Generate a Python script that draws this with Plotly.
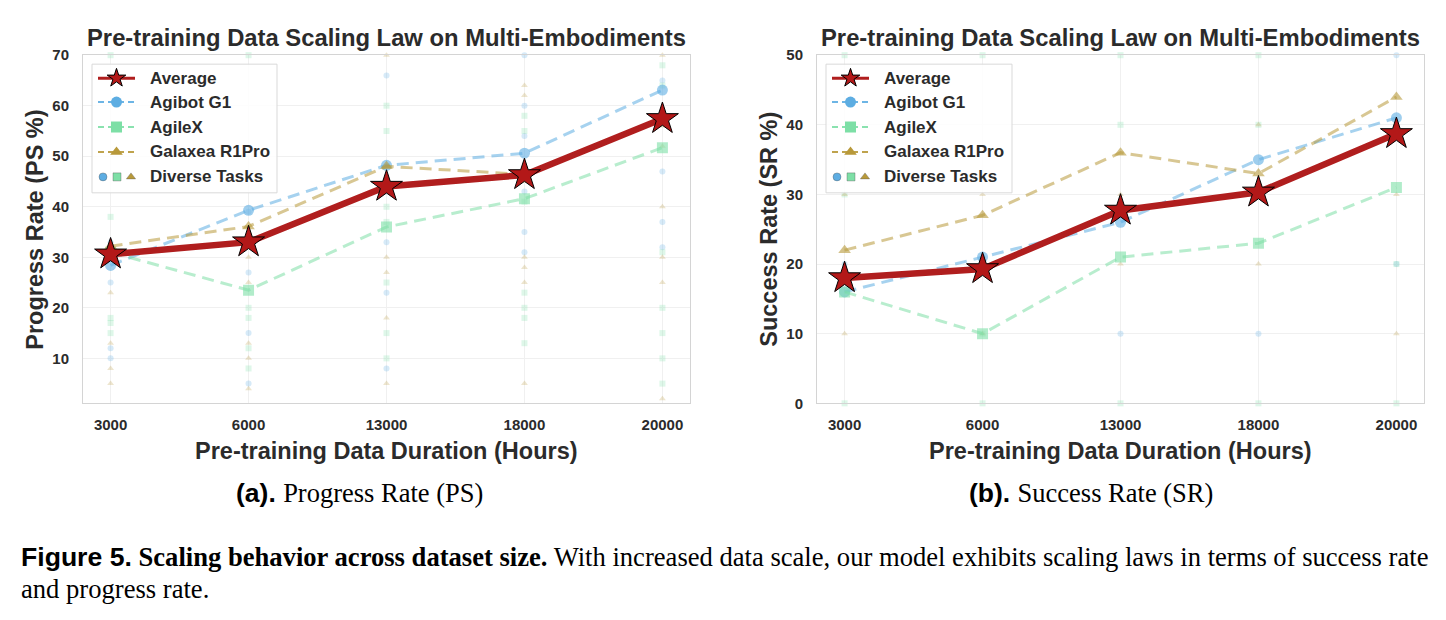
import plotly.graph_objects as go

W, H = 1446, 620
# the captured page shows the figure with a small vertical offset and squeeze;
# page positions below are given in screen pixels and mapped back to figure pixels
VOFF, VSCALE = 8.7, 0.975

categories = ["3000", "6000", "13000", "18000", "20000"]

# Progress Rate (PS %)
ps_average = [30.6, 33.0, 44.0, 46.3, 57.4]
ps_agibot = [28.4, 39.3, 48.2, 50.6, 63.1]
ps_agilex = [31.0, 23.5, 36.0, 41.6, 51.7]
ps_galaxea = [32.2, 36.1, 48.0, 46.4, 57.4]

# Success Rate (SR %)
sr_average = [18.0, 19.3, 27.7, 30.3, 38.7]
sr_agibot = [16.0, 21.0, 26.0, 35.0, 41.0]
sr_agilex = [16.0, 10.0, 21.0, 23.0, 31.0]
sr_galaxea = [22.0, 27.0, 36.0, 33.0, 44.0]

# Diverse task points (one list per data size)
ps_agibot_tasks = [[25, 12, 10, 33], [15, 5, 27, 39], [43, 33, 23, 8, 66], [70, 60, 54, 43, 31, 35], [47, 37, 32, 65]]
ps_agilex_tasks = [[38, 18, 17, 15, 70], [20, 18, 8, 12, 70], [60, 55, 40, 25, 15, 10, 37], [58, 55, 41, 23, 20, 18, 13], [68, 64, 31, 20, 15, 10, 5]]
ps_galaxea_tasks = [[23, 13, 8, 5], [30, 25, 13, 10, 4], [70, 48, 30, 27, 18, 5], [64, 62, 45, 30, 28, 25, 5], [70, 56, 52, 40, 30, 25, 2]]

sr_agibot_tasks = [[20], [20], [10], [10], [20, 50]]
sr_agilex_tasks = [[50, 30, 0], [50, 0, 10], [50, 40, 0], [50, 40, 0], [0, 20]]
sr_galaxea_tasks = [[10, 30], [30, 10], [30, 20], [40, 20], [30, 10]]

series_names = ["Average", "Agibot G1", "AgileX", "Galaxea R1Pro", "Diverse Tasks"]

SANS = "Liberation Sans, Arial, sans-serif"
SERIF = "Liberation Serif, Times New Roman, serif"
TXT = "#2b2b2b"
RED = "#B01E1E"
STAR = "#B31818"
BLUE = (93, 173, 226)
GREEN = (125, 223, 166)
GOLD = (184, 153, 58)


def rgba(c, a):
    return "rgba(%d,%d,%d,%.2f)" % (c[0], c[1], c[2], a)


def py(y):
    """screen pixel y -> paper fraction"""
    return 1 - ((y - VOFF) / VSCALE) / H


def px(x):
    return x / W


def flat(tasks):
    xs, ys = [], []
    for i, vals in enumerate(tasks):
        for v in vals:
            xs.append(i)
            ys.append(v)
    return xs, ys


fig = go.Figure()
x_idx = list(range(len(categories)))

panels = [
    dict(xa="x", ya="y", avg=ps_average, emb=[ps_agibot, ps_agilex, ps_galaxea],
         tasks=[ps_agibot_tasks, ps_agilex_tasks, ps_galaxea_tasks]),
    dict(xa="x2", ya="y2", avg=sr_average, emb=[sr_agibot, sr_agilex, sr_galaxea],
         tasks=[sr_agibot_tasks, sr_agilex_tasks, sr_galaxea_tasks]),
]
emb_colors = [BLUE, GREEN, GOLD]
emb_symbols = ["circle", "square", "triangle-up"]

for p in panels:
    for tasks, col, sym in zip(p["tasks"], emb_colors, emb_symbols):
        xs, ys = flat(tasks)
        fig.add_trace(go.Scatter(
            x=xs, y=ys, xaxis=p["xa"], yaxis=p["ya"], mode="markers",
            marker=dict(symbol=sym, size=6, color=rgba(col, 0.25), line=dict(width=0)),
            showlegend=False, hoverinfo="skip", cliponaxis=False))
    for vals, col, sym in zip(p["emb"], emb_colors, emb_symbols):
        fig.add_trace(go.Scatter(
            x=x_idx, y=vals, xaxis=p["xa"], yaxis=p["ya"], mode="lines+markers",
            line=dict(color=rgba(col, 0.55), width=3, dash="12px,7px"),
            marker=dict(symbol=sym, size=11, color=rgba(col, 0.6), line=dict(width=0)),
            showlegend=False))
    fig.add_trace(go.Scatter(
        x=x_idx, y=p["avg"], xaxis=p["xa"], yaxis=p["ya"], mode="lines+markers",
        line=dict(color=RED, width=6.5),
        marker=dict(symbol="star", size=24, color=STAR, line=dict(color="black", width=1)),
        showlegend=False, cliponaxis=False))

# ---------- manual legends on a full-page overlay axis (screen pixel units) ----------
legend_boxes = [(92, 277, 64, 193, 98, 135, 148), (826, 1012, 64, 193, 832, 869, 882)]
row_y = [78, 102, 127, 152, 177]
for (x0, x1, y0, y1, lx0, lx1, tx) in legend_boxes:
    fig.add_trace(go.Scatter(
        x=[x0, x1, x1, x0, x0], y=[y0, y0, y1, y1, y0], xaxis="x3", yaxis="y3",
        mode="lines", fill="toself", fillcolor="rgba(255,255,255,0.85)",
        line=dict(color="#d9d9d9", width=1), showlegend=False, hoverinfo="skip"))
    mid = (lx0 + lx1) / 2
    fig.add_trace(go.Scatter(x=[lx0, lx1], y=[row_y[0]] * 2, xaxis="x3", yaxis="y3",
                             mode="lines", line=dict(color=RED, width=3), showlegend=False, hoverinfo="skip"))
    fig.add_trace(go.Scatter(x=[mid], y=[row_y[0]], xaxis="x3", yaxis="y3", mode="markers",
                             marker=dict(symbol="star", size=14, color=STAR, line=dict(color="black", width=1)),
                             showlegend=False, hoverinfo="skip"))
    for k, (col, sym) in enumerate(zip(emb_colors, emb_symbols)):
        yy = row_y[k + 1]
        fig.add_trace(go.Scatter(x=[lx0, lx1], y=[yy, yy], xaxis="x3", yaxis="y3", mode="lines",
                                 line=dict(color=rgba(col, 0.9), width=2, dash="6px,4px"),
                                 showlegend=False, hoverinfo="skip"))
        fig.add_trace(go.Scatter(x=[mid], y=[yy], xaxis="x3", yaxis="y3", mode="markers",
                                 marker=dict(symbol=sym, size=11, color=rgba(col, 1.0)),
                                 showlegend=False, hoverinfo="skip"))
    for k, (col, sym) in enumerate(zip(emb_colors, emb_symbols)):
        fig.add_trace(go.Scatter(x=[lx0 + 5 + k * 14], y=[row_y[4]], xaxis="x3", yaxis="y3", mode="markers",
                                 marker=dict(symbol=sym, size=8, color=rgba(col, 1.0),
                                             line=dict(color="rgba(80,80,80,0.6)", width=0.6)),
                                 showlegend=False, hoverinfo="skip"))

annotations = []
for (x0, x1, y0, y1, lx0, lx1, tx) in legend_boxes:
    for name, yy in zip(series_names, row_y):
        annotations.append(dict(x=px(tx), y=py(yy), xref="paper", yref="paper", text=name,
                                showarrow=False, xanchor="left", yanchor="middle",
                                font=dict(family=SANS, size=17, color=TXT, weight="bold")))

# ---------- axes ----------
pl, pr, pt, pb = 83, 690, 55, 404
ql, qr = 817, 1424
ydom = [py(pb), py(pt)]
axis_common = dict(showgrid=True, gridcolor="#f0f0f0", gridwidth=1, showline=True, linecolor="#d4d4d4",
                   linewidth=1, mirror=True, zeroline=False, ticks="", fixedrange=True,
                   tickfont=dict(family=SANS, size=15, color=TXT, weight="bold"))

fig.update_layout(
    xaxis=dict(domain=[px(pl), px(pr)], anchor="y", range=[-0.2, 4.2], tickmode="array",
               tickvals=x_idx, ticktext=categories, ticklabelstandoff=8, **axis_common),
    yaxis=dict(domain=ydom, anchor="x", range=[1.1, 70], tickmode="array",
               tickvals=[10, 20, 30, 40, 50, 60, 70], ticklabelstandoff=10, **axis_common),
    xaxis2=dict(domain=[px(ql), px(qr)], anchor="y2", range=[-0.2, 4.2], tickmode="array",
                tickvals=x_idx, ticktext=categories, ticklabelstandoff=8, **axis_common),
    yaxis2=dict(domain=ydom, anchor="x2", range=[0, 50], tickmode="array",
                tickvals=[0, 10, 20, 30, 40, 50], ticklabelstandoff=10, **axis_common),
    xaxis3=dict(domain=[0, 1], anchor="y3", range=[0, W], visible=False, fixedrange=True),
    yaxis3=dict(domain=[0, 1], anchor="x3", range=[VOFF + VSCALE * H, VOFF], visible=False, fixedrange=True),
)

# titles and axis labels
for cx in [(pl + pr) / 2, (ql + qr) / 2]:
    annotations.append(dict(x=px(cx), y=py(37), xref="paper", yref="paper",
                            text="Pre-training Data Scaling Law on Multi-Embodiments", showarrow=False,
                            xanchor="center", yanchor="middle",
                            font=dict(family=SANS, size=23.8, color=TXT, weight="bold")))
    annotations.append(dict(x=px(cx), y=py(452), xref="paper", yref="paper",
                            text="Pre-training Data Duration (Hours)", showarrow=False,
                            xanchor="center", yanchor="middle",
                            font=dict(family=SANS, size=23.5, color=TXT, weight="bold")))
for yx, ytitle in [(35, "Progress Rate (PS %)"), (769, "Success Rate (SR %)")]:
    annotations.append(dict(x=px(yx), y=py(230), xref="paper", yref="paper", text=ytitle,
                            showarrow=False, textangle=-90, xanchor="center", yanchor="middle",
                            font=dict(family=SANS, size=23.5, color=TXT, weight="bold")))

# sub-captions
for cx, lab, rest in [(359, "(a).", "Progress Rate (PS)"), (1091, "(b).", "Success Rate (SR)")]:
    annotations.append(dict(x=px(cx), y=py(494), xref="paper", yref="paper",
                            text="<b>%s</b> <span style='font-family:%s'>%s</span>" % (lab, SERIF, rest),
                            showarrow=False, xanchor="center", yanchor="middle",
                            font=dict(family=SANS, size=26.5, color="black")))

# figure caption
annotations.append(dict(
    x=px(19), y=py(558), xref="paper", yref="paper", showarrow=False, xanchor="left", yanchor="middle",
    text="<span style='font-family:%s'><b>Figure 5.</b></span> <b>Scaling behavior across dataset size.</b> "
         "With increased data scale, our model exhibits scaling laws in terms of success rate" % SANS,
    font=dict(family=SERIF, size=26.6, color="black")))
annotations.append(dict(
    x=px(19), y=py(590), xref="paper", yref="paper", showarrow=False, xanchor="left", yanchor="middle",
    text="and progress rate.", font=dict(family=SERIF, size=26.6, color="black")))

fig.update_layout(
    width=W, height=H, margin=dict(l=0, r=0, t=0, b=0),
    paper_bgcolor="white", plot_bgcolor="rgba(0,0,0,0)",
    showlegend=False, annotations=annotations,
)

fig.write_html("out.html", config={"displayModeBar": False})
